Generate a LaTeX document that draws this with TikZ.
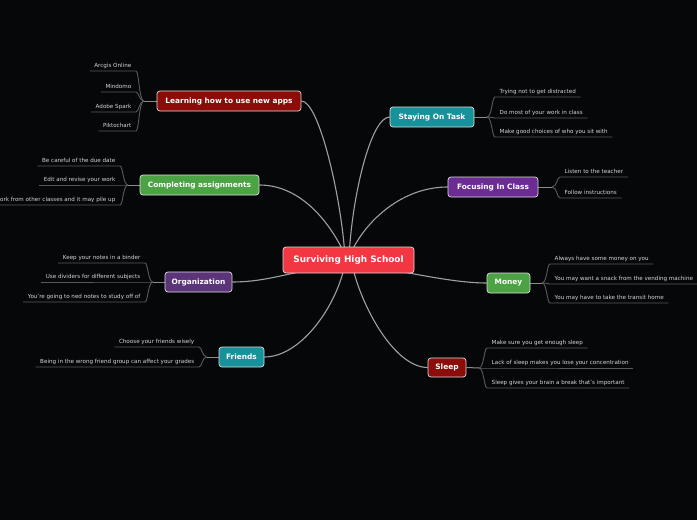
\documentclass[tikz,border=0pt]{standalone}
\usepackage{fontspec}
\setmainfont{DejaVu Sans}
\usetikzlibrary{backgrounds}
\definecolor{bg}{RGB}{6,7,9}
\definecolor{centerred}{RGB}{242,54,66}
\definecolor{darkred}{RGB}{139,12,8}
\definecolor{tgreen}{RGB}{76,163,68}
\definecolor{purpA}{RGB}{92,52,122}
\definecolor{purpB}{RGB}{108,44,148}
\definecolor{tteal}{RGB}{23,145,154}
\definecolor{nborder}{RGB}{220,220,220}
\definecolor{subtext}{RGB}{215,215,215}
\definecolor{linkgray}{RGB}{160,160,160}
\definecolor{stemgray}{RGB}{140,140,140}
\definecolor{ulgray}{RGB}{90,90,90}
\tikzset{
  topic/.style={draw=nborder, line width=0.7pt, rounded corners=3pt, text=white,
    font=\bfseries\fontsize{7.4}{8}\selectfont, minimum height=20pt, inner xsep=0pt, inner ysep=0pt},
  centre/.style={topic, fill=centerred, font=\bfseries\fontsize{8.9}{10}\selectfont,
    minimum width=131pt, minimum height=26pt},
  subbase/.style={text=subtext, font=\fontsize{5.6}{6.5}\selectfont, inner xsep=4.5pt, inner ysep=1.6pt,
    text height=4.3pt, text depth=1.3pt},
  subL/.style={subbase, anchor=south east},
  subR/.style={subbase, anchor=south west},
  link/.style={draw=linkgray, line width=1.1pt},
  stem/.style={draw=stemgray, line width=1pt},
  uline/.style={draw=ulgray, line width=0.9pt},
}
\begin{document}
\begin{tikzpicture}[x=1pt,y=-1pt]
\begin{scope}[on background layer]
  \fill[bg] (0,0) rectangle (697,520);
\end{scope}
\useasboundingbox (0,0) rectangle (697,520);

% central and topic nodes
\node[centre] (c) at (348.5,260) {Surviving High School};
\node[topic, fill=darkred, minimum width=144pt] (learn) at (229,101) {Learning how to use new apps};
\node[topic, fill=tgreen, minimum width=119pt] (comp) at (199.5,185) {Completing assignments};
\node[topic, fill=purpA, minimum width=67pt] (org) at (198.5,282) {Organization};
\node[topic, fill=tteal, minimum width=45pt] (friends) at (241.5,357) {Friends};
\node[topic, fill=tteal, minimum width=84pt] (stay) at (432,117) {Staying On Task};
\node[topic, fill=purpB, minimum width=90pt] (focus) at (493,187) {Focusing In Class};
\node[topic, fill=tgreen, minimum width=43pt] (money) at (508.5,283) {Money};
\node[topic, fill=darkred, minimum width=38pt, minimum height=19pt] (sleep) at (447,367.5) {Sleep};

% forks
\coordinate (fL) at (144,101);
\coordinate (fC) at (128,185);
\coordinate (fO) at (153,282);
\coordinate (fF) at (207,357);
\coordinate (fS) at (487,117);
\coordinate (fFo) at (552,187);
\coordinate (fM) at (542,283);
\coordinate (fSl) at (479,368);

% subtopics left
\node[subL] (l1) at (136,71) {Arcgis Online};
\node[subL] (l2) at (136,92) {Mindomo};
\node[subL] (l3) at (136,112) {Adobe Spark};
\node[subL] (l4) at (136,131) {Piktochart};
\node[subL] (c1) at (120,166) {Be careful of the due date};
\node[subL] (c2) at (120,185) {Edit and revise your work};
\node[subL] (c3) at (120,205) {ork from other classes and it may pile up};
\node[subL] (o1) at (145,263) {Keep your notes in a binder};
\node[subL] (o2) at (145,282) {Use dividers for different subjects};
\node[subL] (o3) at (145,302) {You're going to ned notes to study off of};
\node[subL] (fr1) at (199,347) {Choose your friends wisely};
\node[subL] (fr2) at (199,367) {Being in the wrong friend group can affect your grades};
% subtopics right
\node[subR] (s1) at (495,97) {Trying not to get distracted};
\node[subR] (s2) at (495,118) {Do most of your work in class};
\node[subR] (s3) at (495,137) {Make good choices of who you sit with};
\node[subR] (fo1) at (560,177) {Listen to the teacher};
\node[subR] (fo2) at (560,198) {Follow instructions};
\node[subR] (m1) at (550,264) {Always have some money on you};
\node[subR] (m2) at (550,284) {You may want a snack from the vending machine};
\node[subR] (m3) at (550,303) {You may have to take the transit home};
\node[subR] (sl1) at (487,348) {Make sure you get enough sleep};
\node[subR] (sl2) at (487,368) {Lack of sleep makes you lose your concentration};
\node[subR] (sl3) at (487,388) {Sleep gives your brain a break that's important};

\begin{scope}[on background layer]
  % centre to topics
  \draw[link] (learn.east) .. controls +(17,0) and +(-5,-60) .. ([xshift=-4pt,yshift=-3pt]c.north);
  \draw[link] (comp.east) .. controls +(40,0) and +(-15,-30) .. ([xshift=-6pt,yshift=-3pt]c.north);
  \draw[link] (stay.west) .. controls +(-18,0) and +(4,-60) .. ([xshift=1pt,yshift=-3pt]c.north);
  \draw[link] (focus.west) .. controls +(-45,0) and +(15,-30) .. ([xshift=4pt,yshift=-3pt]c.north);
  \draw[link] (org.east) .. controls +(30,0) and +(-25,4) .. ([xshift=-40pt,yshift=3pt]c.south);
  \draw[link] (money.west) .. controls +(-30,0) and +(25,4) .. ([xshift=45pt,yshift=3pt]c.south);
  \draw[link] (friends.east) .. controls +(35,0) and +(-10,40) .. ([xshift=-5pt,yshift=3pt]c.south);
  \draw[link] (sleep.west) .. controls +(-32,0) and +(10,40) .. ([xshift=5pt,yshift=3pt]c.south);
  % stems
  \draw[stem] (learn.west) -- (fL);
  \draw[stem] (comp.west) -- (fC);
  \draw[stem] (org.west) -- (fO);
  \draw[stem] (friends.west) -- (fF);
  \draw[stem] (stay.east) -- (fS);
  \draw[stem] (focus.east) -- (fFo);
  \draw[stem] (money.east) -- (fM);
  \draw[stem] (sleep.east) -- (fSl);
  % left underlines
  \foreach \f/\s in {fL/l1,fL/l2,fL/l3,fL/l4,fC/c1,fC/c2,fC/c3,fO/o1,fO/o2,fO/o3,fF/fr1,fF/fr2}
    \draw[uline] (\f) .. controls +(-5,0) and +(3,0) .. (\s.south east) -- (\s.south west);
  % right underlines
  \foreach \f/\s in {fS/s1,fS/s2,fS/s3,fFo/fo1,fFo/fo2,fM/m1,fM/m2,fM/m3,fSl/sl1,fSl/sl2,fSl/sl3}
    \draw[uline] (\f) .. controls +(5,0) and +(-3,0) .. (\s.south west) -- (\s.south east);
\end{scope}
\end{tikzpicture}
\end{document}
